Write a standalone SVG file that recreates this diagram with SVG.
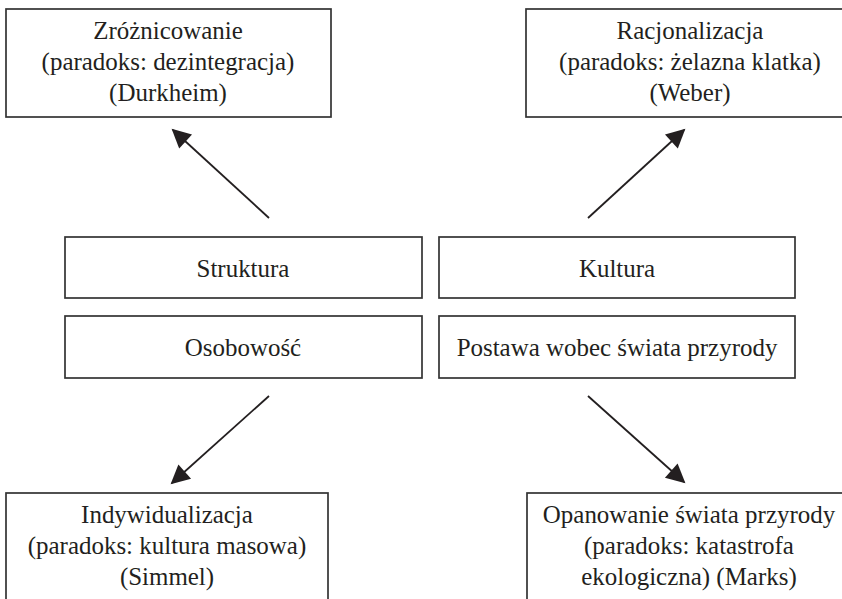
<svg xmlns="http://www.w3.org/2000/svg" width="842" height="599" viewBox="0 0 842 599">
<defs>
<style>
.box{fill:#fff;stroke:#333;stroke-width:1.7}
.t{font-family:"Liberation Serif","Times New Roman",serif;font-size:26px;fill:#231f20;text-anchor:middle;transform-box:fill-box;transform-origin:center;transform:scaleX(0.96)}
.c{stroke:#231f20;stroke-width:1.8;fill:none;marker-end:url(#ah)}
</style>
<marker id="ah" viewBox="0 0 10 10" refX="9" refY="5" markerWidth="24" markerHeight="19" markerUnits="userSpaceOnUse" orient="auto">
<path d="M0,0 L10,5 L0,10 z" fill="#231f20"/>
</marker>
</defs>
<rect width="842" height="599" fill="#fff"/>
<g id="n-zroznicowanie">
<rect class="box" x="6" y="9" width="325" height="108"/>
<text class="t" x="168" y="39">Zróżnicowanie</text>
<text class="t" x="168" y="70">(paradoks: dezintegracja)</text>
<text class="t" x="168" y="101">(Durkheim)</text>
</g>
<g id="n-racjonalizacja">
<rect class="box" x="526" y="9" width="330" height="108"/>
<text class="t" x="690" y="39">Racjonalizacja</text>
<text class="t" x="690" y="70">(paradoks: żelazna klatka)</text>
<text class="t" x="690" y="101">(Weber)</text>
</g>
<g id="n-struktura">
<rect class="box" x="65" y="237" width="357" height="61"/>
<text class="t" x="243" y="277">Struktura</text>
</g>
<g id="n-kultura">
<rect class="box" x="439" y="237" width="356" height="61"/>
<text class="t" x="617" y="277">Kultura</text>
</g>
<g id="n-osobowosc">
<rect class="box" x="65" y="316" width="357" height="62"/>
<text class="t" x="243" y="356">Osobowość</text>
</g>
<g id="n-postawa">
<rect class="box" x="439" y="316" width="356" height="62"/>
<text class="t" x="617" y="356">Postawa wobec świata przyrody</text>
</g>
<g id="n-indywidualizacja">
<rect class="box" x="6" y="493" width="322" height="120"/>
<text class="t" x="167" y="523">Indywidualizacja</text>
<text class="t" x="167" y="554">(paradoks: kultura masowa)</text>
<text class="t" x="167" y="585">(Simmel)</text>
</g>
<g id="n-opanowanie">
<rect class="box" x="527" y="493" width="330" height="120"/>
<text class="t" x="689" y="523">Opanowanie świata przyrody</text>
<text class="t" x="689" y="554">(paradoks: katastrofa</text>
<text class="t" x="689" y="585">ekologiczna) (Marks)</text>
</g>
<g id="connectors">
<line class="c" x1="269" y1="218" x2="173" y2="130"/>
<line class="c" x1="588" y1="218" x2="684" y2="130"/>
<line class="c" x1="269" y1="396" x2="172" y2="483"/>
<line class="c" x1="588" y1="396" x2="684" y2="482"/>
</g>
</svg>
